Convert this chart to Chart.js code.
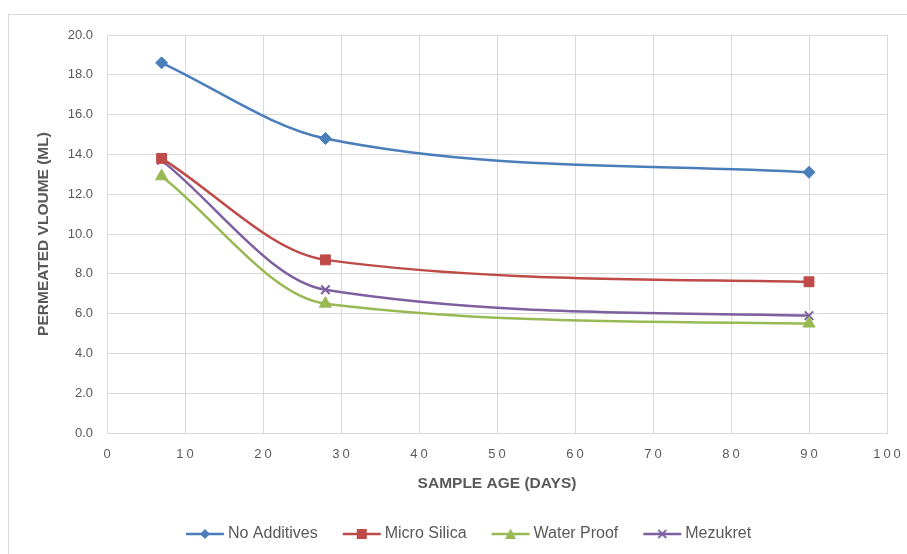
<!DOCTYPE html>
<html>
<head>
<meta charset="utf-8">
<script src="https://cdn.jsdelivr.net/npm/chart.js@4.4.0/dist/chart.umd.min.js"></script>
<style>
  html, body { margin: 0; padding: 0; background: #fff; overflow: hidden; }
  #frame { position: absolute; left: 8px; top: 14px; width: 930px; height: 560px; border: 1px solid #d9d9d9; }
  #wrap { position: absolute; left: 0; top: 0; width: 907px; height: 554px; }
</style>
</head>
<body>
<div id="frame"></div>
<div id="wrap"><canvas id="chart" width="907" height="554"></canvas></div>
<script>
// sample age (days)
const ages = [7, 28, 90];
const noAdditives = [18.6, 14.8, 13.1];
const microSilica = [13.8, 8.7, 7.6];
const waterProof = [12.9, 6.5, 5.5];
const mezukret = [13.7, 7.2, 5.9];

const seriesNames = ['No Additives', 'Micro Silica', 'Water Proof', 'Mezukret'];
const seriesColors = ['#4a7ebb', '#be4b48', '#98b954', '#7d60a0'];
const seriesMarkers = ['rectRot', 'rect', 'triangle', 'crossRot'];
const markerSizes = [6, 7, 7, 6];

const points = (vals) => vals.map((v, i) => ({ x: ages[i], y: v }));

// little line+marker picture for the legend
const legendIcon = (color, marker) => {
    const c = document.createElement('canvas');
    c.width = 44; c.height = 14;
    const g = c.getContext('2d');
    g.strokeStyle = color; g.fillStyle = color; g.lineWidth = 2.5;
    g.beginPath(); g.moveTo(3, 7); g.lineTo(41, 7); g.stroke();
    g.beginPath();
    if (marker === 'rectRot') {
        g.moveTo(22, 2); g.lineTo(27, 7); g.lineTo(22, 12); g.lineTo(17, 7); g.closePath(); g.fill();
    } else if (marker === 'rect') {
        g.fillRect(17, 2, 10, 10);
    } else if (marker === 'triangle') {
        g.moveTo(22, 1.5); g.lineTo(27.5, 12); g.lineTo(16.5, 12); g.closePath(); g.fill();
    } else {
        g.lineWidth = 1.8;
        g.moveTo(18, 3); g.lineTo(26, 11); g.moveTo(26, 3); g.lineTo(18, 11); g.stroke();
    }
    return c;
};

const allValues = [noAdditives, microSilica, waterProof, mezukret];
const datasets = allValues.map((vals, i) => ({
    label: seriesNames[i],
    data: points(vals),
    showLine: true,
    borderColor: seriesColors[i],
    backgroundColor: seriesColors[i],
    borderWidth: 2.5,
    tension: 0.4,
    cubicInterpolationMode: 'monotone',
    pointStyle: seriesMarkers[i],
    pointRadius: markerSizes[i],
    pointHoverRadius: markerSizes[i],
    pointBorderWidth: seriesMarkers[i] === 'crossRot' ? 2 : 1,
    legendIcon: legendIcon(seriesColors[i], seriesMarkers[i])
}));

const tickFont = { family: 'Liberation Sans', size: 13 };
const legendFont = { family: 'Liberation Sans', size: 16 };
const titleFont = { family: 'Liberation Sans', size: 15.5, weight: 'bold' };

// excel spreads the x tick digits apart
const spacedXTicks = {
    id: 'spacedXTicks',
    beforeDraw(chart) {
        const xs = chart.scales.x;
        if (xs._spaced) return;
        const orig = xs.drawLabels.bind(xs);
        xs.drawLabels = (area) => {
            chart.ctx.save();
            chart.ctx.letterSpacing = '3px';
            orig(area);
            chart.ctx.restore();
        };
        xs._spaced = true;
    }
};

// legend sits a little right of the canvas centre
const nudgeLegend = {
    id: 'nudgeLegend',
    afterLayout(chart) {
        chart.legend.left += 12;
        chart.legend.right += 12;
    }
};

new Chart(document.getElementById('chart'), {
    type: 'scatter',
    data: { datasets: datasets },
    plugins: [spacedXTicks, nudgeLegend],
    options: {
        responsive: false,
        animation: false,
        layout: { padding: { top: 35, right: 20, left: 30, bottom: 2 } },
        plugins: {
            tooltip: { enabled: false },
            legend: {
                position: 'bottom',
                labels: {
                    usePointStyle: true,
                    pointStyleWidth: 30,
                    boxHeight: 14,
                    color: '#595959',
                    font: legendFont,
                    padding: 29,
                    generateLabels: (chart) => chart.data.datasets.map((ds, i) => ({
                        text: ds.label,
                        pointStyle: ds.legendIcon,
                        fillStyle: ds.borderColor,
                        strokeStyle: ds.borderColor,
                        fontColor: '#595959',
                        lineWidth: 0,
                        datasetIndex: i
                    }))
                }
            }
        },
        scales: {
            x: {
                type: 'linear',
                min: 0,
                max: 100,
                ticks: { stepSize: 10, color: '#595959', font: tickFont, padding: 14, labelOffset: 1.5 },
                grid: { color: '#d9d9d9', drawTicks: false },
                border: { color: '#d9d9d9' },
                title: { display: true, text: 'SAMPLE AGE (DAYS)', color: '#595959', font: titleFont, padding: { top: 0, bottom: 4 } },
                afterFit: (s) => { s.height = 64; s.paddingLeft = 0; s.paddingRight = 0; }
            },
            y: {
                min: 0,
                max: 20,
                ticks: { stepSize: 2, color: '#595959', font: tickFont, padding: 14, callback: (v) => v.toFixed(1) },
                grid: { color: '#d9d9d9', drawTicks: false },
                border: { color: '#d9d9d9' },
                title: { display: true, text: 'PERMEATED VLOUME (ML)', color: '#595959', font: titleFont },
                afterFit: (s) => { s.width = 77; s.paddingTop = 0; s.paddingBottom = 0; }
            }
        }
    }
});
</script>
</body>
</html>
